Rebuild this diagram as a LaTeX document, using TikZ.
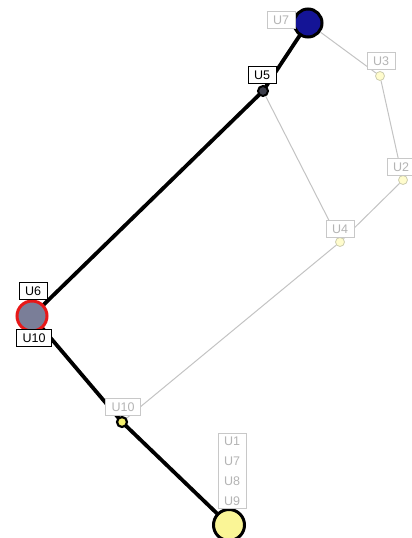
\documentclass[tikz,border=0pt]{standalone}
\usepackage{fontspec}
\setmainfont{Liberation Sans}
\usetikzlibrary{backgrounds}
\definecolor{fadeline}{RGB}{195,195,195}
\definecolor{fadetext}{RGB}{180,180,180}
\definecolor{fadebox}{RGB}{200,200,200}
\definecolor{paleyellow}{RGB}{255,252,205}
\definecolor{paleedge}{RGB}{205,205,175}
\definecolor{navyfill}{RGB}{20,20,150}
\definecolor{slatefill}{RGB}{122,126,152}
\definecolor{redring}{RGB}{232,24,24}
\definecolor{darkdot}{RGB}{60,62,75}
\definecolor{yellowdot}{RGB}{245,240,110}
\definecolor{yellowbig}{RGB}{250,245,150}
\tikzset{
  boxbase/.style={fill=white, line width=0.9pt, font=\fontsize{12.5}{14}\selectfont, inner xsep=6pt},
  tag/.style={boxbase, draw=black, inner ysep=4pt, text height=9pt, text depth=0pt},
  fadetag/.style={tag, draw=fadebox, text=fadetext},
  fadestack/.style={boxbase, draw=fadebox, text=fadetext, align=center, inner ysep=3pt,
    font=\fontsize{12.5}{20}\selectfont},
  fadedot/.style={circle, draw=paleedge, line width=0.8pt, fill=paleyellow, minimum size=9pt, inner sep=0pt},
  strong/.style={line width=3.8pt, black},
  weak/.style={line width=1pt, fadeline}
}
\begin{document}
\begin{tikzpicture}[x=1pt,y=-1pt]
\useasboundingbox (0,0) rectangle (412,538);
% vertices
\node[circle, draw=black, line width=3pt, fill=navyfill, minimum size=28pt, inner sep=0pt] (u7) at (308,23) {};
\node[fadedot] (u3) at (380,76) {};
\node[fadedot] (u2) at (403,180) {};
\node[fadedot] (u4) at (340,242) {};
\node[circle, draw=black, line width=2pt, fill=darkdot, minimum size=10pt, inner sep=0pt] (u5) at (263,91) {};
\node[circle, draw=redring, line width=3pt, fill=slatefill, minimum size=30pt, inner sep=0pt] (u6) at (32,316) {};
\node[circle, draw=black, line width=2.2pt, fill=yellowdot, minimum size=10pt, inner sep=0pt] (u10) at (122,422) {};
\node[circle, draw=black, line width=3pt, fill=yellowbig, minimum size=31pt, inner sep=0pt] (ub) at (229,525) {};
% edges
\begin{scope}[on background layer]
\draw[weak] (u7) -- (u3);
\draw[weak] (u3) -- (u2);
\draw[weak] (u2) -- (u4);
\draw[weak] (u4) -- (u5);
\draw[weak] (u4) -- (u10);
\draw[strong] (u7.center) -- (u5.center);
\draw[strong] (u5.center) -- (u6.center);
\draw[strong] (u6.center) -- (u10.center);
\draw[strong] (u10.center) -- (ub.center);
\end{scope}
% labels
\node[fadetag] (l7) at (281,20) {U7};
\node[fadetag] (l3) at (381,61) {U3};
\node[fadetag] (l2) at (401,167) {U2};
\node[fadetag] (l4) at (340,229) {U4};
\node[tag] (l5) at (262,75) {U5};
\node[tag] (l6) at (33,291) {U6};
\node[tag] (l6b) at (34,338) {U10};
\node[fadetag] (l10) at (123,407) {U10};
\node[fadestack] (lb) at (232,471) {U1\\U7\\U8\\U9};
\end{tikzpicture}
\end{document}
